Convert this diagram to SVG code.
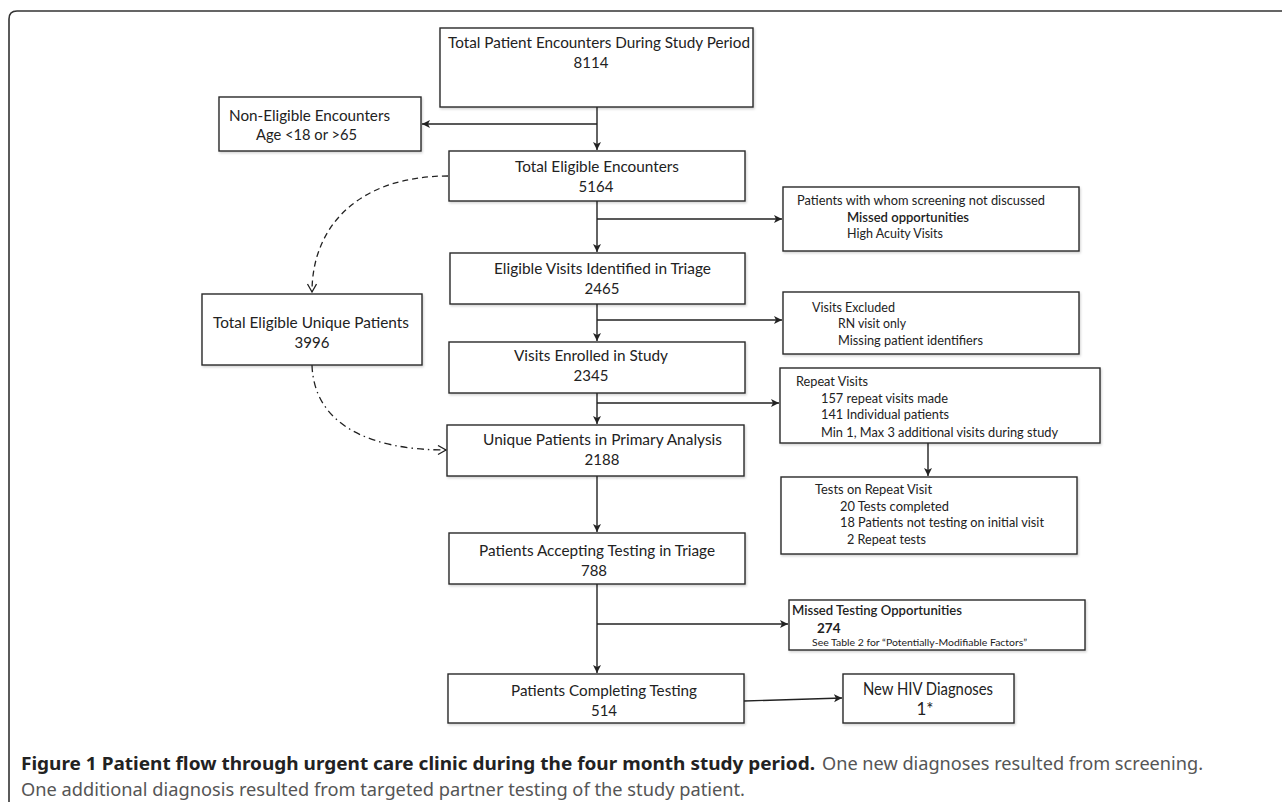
<svg xmlns="http://www.w3.org/2000/svg" width="1282" height="802" viewBox="0 0 1282 802">
<defs>
<style>
.box{fill:#fff;stroke:#2a2a2a;stroke-width:1.4;filter:url(#sh)}
.t{font-family:"Lato","Open Sans","Liberation Sans",sans-serif;font-size:15px;fill:#222}
.m{text-anchor:middle}
.s{font-family:"Lato","Open Sans","Liberation Sans",sans-serif;font-size:13.5px;fill:#222}
.sb{font-weight:600}
.b{font-weight:700}
.n{font-family:"Lato","Open Sans","Liberation Sans",sans-serif;font-size:9.5px;fill:#222}
.h{font-family:"Lato","Open Sans","Liberation Sans",sans-serif;font-size:17px;fill:#222}
.ln{fill:none;stroke:#222;stroke-width:1.4}
.ds{fill:none;stroke:#222;stroke-width:1.3;stroke-dasharray:6 4}
.dd{fill:none;stroke:#222;stroke-width:1.3;stroke-dasharray:7 4 1.5 4}
.cap{font-family:"Noto Sans","Open Sans","Liberation Sans",sans-serif;font-size:18px}
</style>
<filter id="sh" x="-5%" y="-5%" width="115%" height="120%">
<feDropShadow dx="1" dy="1.5" stdDeviation="1" flood-color="#000" flood-opacity="0.18"/>
</filter>
<marker id="ar" markerUnits="userSpaceOnUse" markerWidth="10" markerHeight="10" refX="8" refY="4" orient="auto">
<path d="M0,0 L8,4 L0,8 L2,4 z" fill="#222"/>
</marker>
<marker id="op" markerUnits="userSpaceOnUse" markerWidth="12" markerHeight="12" refX="9" refY="5" orient="auto">
<path d="M1,0.5 L9,5 L1,9.5" fill="none" stroke="#222" stroke-width="1.3"/>
</marker>
</defs>
<rect width="1282" height="802" fill="#fff"/>
<path d="M9,802 V19 Q9,11 17,11 H1282" fill="none" stroke="#333" stroke-width="1.6"/>

<g id="connectors">
<path class="ln" d="M597,107 V150" marker-end="url(#ar)"/>
<path class="ln" d="M597,124 H422" marker-end="url(#ar)"/>
<path class="ln" d="M597,201 V252" marker-end="url(#ar)"/>
<path class="ln" d="M597,219 H782" marker-end="url(#ar)"/>
<path class="ln" d="M597,304 V341" marker-end="url(#ar)"/>
<path class="ln" d="M597,320 H782" marker-end="url(#ar)"/>
<path class="ln" d="M597,393 V424" marker-end="url(#ar)"/>
<path class="ln" d="M597,403 H779" marker-end="url(#ar)"/>
<path class="ln" d="M928,443 V476" marker-end="url(#ar)"/>
<path class="ln" d="M597,476 V532" marker-end="url(#ar)"/>
<path class="ln" d="M597,584 V673" marker-end="url(#ar)"/>
<path class="ln" d="M597,624 H788" marker-end="url(#ar)"/>
<path class="ln" d="M744,701 L842,698" marker-end="url(#ar)"/>
<path class="ds" d="M448,176 C360,176 312,225 312,292" marker-end="url(#op)"/>
<path class="dd" d="M312,365 C314,425 370,450 446,450" marker-end="url(#op)"/>
</g>

<g id="n-total">
<rect class="box" x="440" y="28" width="313" height="79"/>
<text class="t" x="448" y="48" textLength="302" lengthAdjust="spacingAndGlyphs">Total Patient Encounters During Study Period</text>
<text class="t m" x="591" y="68">8114</text>
</g>

<g id="n-noneligible">
<rect class="box" x="219" y="97" width="202" height="54"/>
<text class="t" x="229" y="121" textLength="161" lengthAdjust="spacingAndGlyphs">Non-Eligible Encounters</text>
<text class="t" x="256" y="140" textLength="101" lengthAdjust="spacingAndGlyphs">Age &lt;18 or &gt;65</text>
</g>

<g id="n-eligible">
<rect class="box" x="449" y="151" width="296" height="50"/>
<text class="t" x="515" y="172" textLength="164" lengthAdjust="spacingAndGlyphs">Total Eligible Encounters</text>
<text class="t m" x="596" y="192">5164</text>
</g>

<g id="n-screening">
<rect class="box" x="783" y="187" width="296" height="64"/>
<text class="s" x="797" y="205" textLength="248" lengthAdjust="spacingAndGlyphs">Patients with whom screening not discussed</text>
<text class="s sb" x="847" y="222" textLength="122" lengthAdjust="spacingAndGlyphs">Missed opportunities</text>
<text class="s" x="847" y="238" textLength="96" lengthAdjust="spacingAndGlyphs">High Acuity Visits</text>
</g>

<g id="n-triage">
<rect class="box" x="450" y="253" width="295" height="51"/>
<text class="t" x="494" y="274" textLength="217" lengthAdjust="spacingAndGlyphs">Eligible Visits Identified in Triage</text>
<text class="t m" x="602" y="294">2465</text>
</g>

<g id="n-unique-eligible">
<rect class="box" x="202" y="294" width="220" height="71"/>
<text class="t" x="213" y="328" textLength="196" lengthAdjust="spacingAndGlyphs">Total Eligible Unique Patients</text>
<text class="t m" x="312" y="348">3996</text>
</g>

<g id="n-excluded">
<rect class="box" x="783" y="292" width="296" height="62"/>
<text class="s" x="812" y="312" textLength="83" lengthAdjust="spacingAndGlyphs">Visits Excluded</text>
<text class="s" x="838" y="328" textLength="68" lengthAdjust="spacingAndGlyphs">RN visit only</text>
<text class="s" x="838" y="345" textLength="145" lengthAdjust="spacingAndGlyphs">Missing patient identifiers</text>
</g>

<g id="n-enrolled">
<rect class="box" x="449" y="342" width="296" height="51"/>
<text class="t" x="514" y="361" textLength="154" lengthAdjust="spacingAndGlyphs">Visits Enrolled in Study</text>
<text class="t m" x="591" y="381">2345</text>
</g>

<g id="n-repeat">
<rect class="box" x="780" y="368" width="320" height="75"/>
<text class="s" x="796" y="386" textLength="72" lengthAdjust="spacingAndGlyphs">Repeat Visits</text>
<text class="s" x="821" y="403" textLength="127" lengthAdjust="spacingAndGlyphs">157 repeat visits made</text>
<text class="s" x="821" y="419" textLength="128" lengthAdjust="spacingAndGlyphs">141 Individual patients</text>
<text class="s" x="821" y="437" textLength="237" lengthAdjust="spacingAndGlyphs">Min 1, Max 3 additional visits during study</text>
</g>

<g id="n-primary">
<rect class="box" x="447" y="425" width="297" height="51"/>
<text class="t" x="483" y="445" textLength="239" lengthAdjust="spacingAndGlyphs">Unique Patients in Primary Analysis</text>
<text class="t m" x="602" y="465">2188</text>
</g>

<g id="n-tests-repeat">
<rect class="box" x="781" y="477" width="296" height="77"/>
<text class="s" x="815" y="494" textLength="117" lengthAdjust="spacingAndGlyphs">Tests on Repeat Visit</text>
<text class="s" x="840" y="511" textLength="109" lengthAdjust="spacingAndGlyphs">20 Tests completed</text>
<text class="s" x="840" y="527" textLength="204" lengthAdjust="spacingAndGlyphs">18 Patients not testing on initial visit</text>
<text class="s" x="847" y="544" textLength="79" lengthAdjust="spacingAndGlyphs">2 Repeat tests</text>
</g>

<g id="n-accepting">
<rect class="box" x="449" y="533" width="296" height="51"/>
<text class="t" x="479" y="556" textLength="236" lengthAdjust="spacingAndGlyphs">Patients Accepting Testing in Triage</text>
<text class="t m" x="594" y="576">788</text>
</g>

<g id="n-missed-testing">
<rect class="box" x="789" y="600" width="296" height="50"/>
<text class="s sb" x="792" y="615" textLength="170" lengthAdjust="spacingAndGlyphs">Missed Testing Opportunities</text>
<text class="s b" x="817" y="633">274</text>
<text class="n" x="812" y="646" textLength="215" lengthAdjust="spacingAndGlyphs">See Table 2 for “Potentially-Modifiable Factors”</text>
</g>

<g id="n-completing">
<rect class="box" x="448" y="674" width="296" height="49"/>
<text class="t" x="511" y="696" textLength="186" lengthAdjust="spacingAndGlyphs">Patients Completing Testing</text>
<text class="t m" x="604" y="716">514</text>
</g>

<g id="n-hiv">
<rect class="box" x="843" y="674" width="171" height="49"/>
<text class="h" x="863" y="695" textLength="130" lengthAdjust="spacingAndGlyphs">New HIV Diagnoses</text>
<text class="h m" x="925" y="715">1*</text>
</g>

<g id="caption">
<text class="cap" x="21" y="770" font-weight="700" fill="#222" textLength="794" lengthAdjust="spacingAndGlyphs">Figure 1 Patient flow through urgent care clinic during the four month study period.</text>
<text class="cap" x="822" y="770" fill="#555" textLength="381" lengthAdjust="spacingAndGlyphs">One new diagnoses resulted from screening.</text>
<text class="cap" x="21" y="796" fill="#555" textLength="724" lengthAdjust="spacingAndGlyphs">One additional diagnosis resulted from targeted partner testing of the study patient.</text>
</g>
</svg>
